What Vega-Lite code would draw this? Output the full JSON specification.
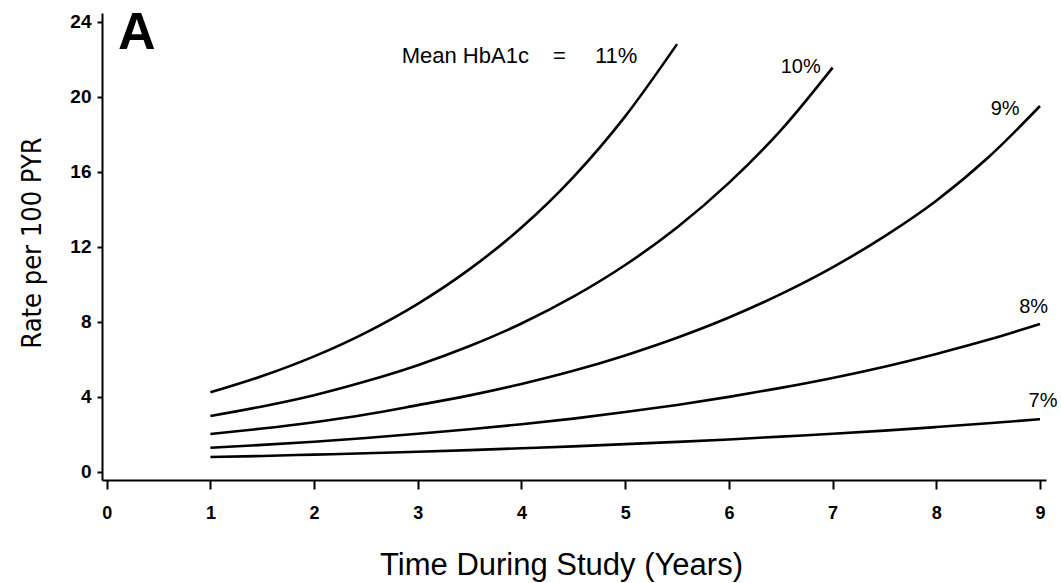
{
  "$schema": "https://vega.github.io/schema/vega-lite/v6.json",
  "autosize": {"type": "none"},
  "padding": {"left": 102, "top": 13, "right": 15, "bottom": 103},
  "width": 944,
  "height": 467,
  "config": {"view": {"stroke": null}, "font": "Liberation Sans"},
  "datasets": {
    "curves": [
      {"s": "11%", "t": 1, "r": 4.23}, {"s": "11%", "t": 1.5, "r": 5.1}, {"s": "11%", "t": 2, "r": 6.15}, {"s": "11%", "t": 2.5, "r": 7.42}, {"s": "11%", "t": 3, "r": 8.95}, {"s": "11%", "t": 3.5, "r": 10.8}, {"s": "11%", "t": 4, "r": 13.02}, {"s": "11%", "t": 4.5, "r": 15.71}, {"s": "11%", "t": 5, "r": 18.95}, {"s": "11%", "t": 5.5, "r": 22.8},
      {"s": "10%", "t": 1, "r": 2.97}, {"s": "10%", "t": 1.5, "r": 3.48}, {"s": "10%", "t": 2, "r": 4.08}, {"s": "10%", "t": 2.5, "r": 4.82}, {"s": "10%", "t": 3, "r": 5.68}, {"s": "10%", "t": 3.5, "r": 6.7}, {"s": "10%", "t": 4, "r": 7.9}, {"s": "10%", "t": 4.5, "r": 9.33}, {"s": "10%", "t": 5, "r": 11.02}, {"s": "10%", "t": 5.5, "r": 13.02}, {"s": "10%", "t": 6, "r": 15.4}, {"s": "10%", "t": 6.5, "r": 18.2}, {"s": "10%", "t": 7, "r": 21.55},
      {"s": "9%", "t": 1, "r": 2.01}, {"s": "9%", "t": 1.5, "r": 2.3}, {"s": "9%", "t": 2, "r": 2.64}, {"s": "9%", "t": 2.5, "r": 3.05}, {"s": "9%", "t": 3, "r": 3.55}, {"s": "9%", "t": 3.5, "r": 4.07}, {"s": "9%", "t": 4, "r": 4.68}, {"s": "9%", "t": 4.5, "r": 5.38}, {"s": "9%", "t": 5, "r": 6.2}, {"s": "9%", "t": 5.5, "r": 7.14}, {"s": "9%", "t": 6, "r": 8.22}, {"s": "9%", "t": 6.5, "r": 9.47}, {"s": "9%", "t": 7, "r": 10.9}, {"s": "9%", "t": 7.5, "r": 12.55}, {"s": "9%", "t": 8, "r": 14.45}, {"s": "9%", "t": 8.5, "r": 16.75}, {"s": "9%", "t": 9, "r": 19.5},
      {"s": "8%", "t": 1, "r": 1.28}, {"s": "8%", "t": 1.5, "r": 1.43}, {"s": "8%", "t": 2, "r": 1.6}, {"s": "8%", "t": 2.5, "r": 1.8}, {"s": "8%", "t": 3, "r": 2.02}, {"s": "8%", "t": 3.5, "r": 2.26}, {"s": "8%", "t": 4, "r": 2.53}, {"s": "8%", "t": 4.5, "r": 2.83}, {"s": "8%", "t": 5, "r": 3.18}, {"s": "8%", "t": 5.5, "r": 3.56}, {"s": "8%", "t": 6, "r": 3.99}, {"s": "8%", "t": 6.5, "r": 4.47}, {"s": "8%", "t": 7, "r": 5.0}, {"s": "8%", "t": 7.5, "r": 5.6}, {"s": "8%", "t": 8, "r": 6.28}, {"s": "8%", "t": 8.5, "r": 7.03}, {"s": "8%", "t": 9, "r": 7.88},
      {"s": "7%", "t": 1, "r": 0.78}, {"s": "7%", "t": 1.5, "r": 0.84}, {"s": "7%", "t": 2, "r": 0.91}, {"s": "7%", "t": 2.5, "r": 0.98}, {"s": "7%", "t": 3, "r": 1.06}, {"s": "7%", "t": 3.5, "r": 1.15}, {"s": "7%", "t": 4, "r": 1.25}, {"s": "7%", "t": 4.5, "r": 1.35}, {"s": "7%", "t": 5, "r": 1.47}, {"s": "7%", "t": 5.5, "r": 1.59}, {"s": "7%", "t": 6, "r": 1.72}, {"s": "7%", "t": 6.5, "r": 1.87}, {"s": "7%", "t": 7, "r": 2.02}, {"s": "7%", "t": 7.5, "r": 2.19}, {"s": "7%", "t": 8, "r": 2.38}, {"s": "7%", "t": 8.5, "r": 2.58}, {"s": "7%", "t": 9, "r": 2.8}
    ],
    "labels": [
      {"label": "Mean HbA1c", "t": 2.845, "r": 21.81, "kind": "main"},
      {"label": "=", "t": 4.304, "r": 21.81, "kind": "main"},
      {"label": "11%", "t": 4.709, "r": 21.81, "kind": "main"},
      {"label": "10%", "t": 6.5, "r": 21.25, "kind": "pct"},
      {"label": "9%", "t": 8.525, "r": 19.02, "kind": "pct"},
      {"label": "8%", "t": 8.8, "r": 8.45, "kind": "pct"},
      {"label": "7%", "t": 8.89, "r": 3.47, "kind": "pct"}
    ],
    "panel": [
      {"label": "A", "t": 0.109, "r": 22.54}
    ]
  },
  "layer": [
    {
      "data": {"name": "curves"},
      "mark": {"type": "line", "color": "black", "strokeWidth": 2.6, "interpolate": "monotone"},
      "encoding": {
        "x": {
          "field": "t", "type": "quantitative",
          "scale": {"domain": [-0.0453, 9.058], "nice": false, "zero": false},
          "axis": {
            "values": [0, 1, 2, 3, 4, 5, 6, 7, 8, 9], "format": "d",
            "title": "Time During Study (Years)",
            "titleFont": "Liberation Sans", "titleFontSize": 31, "titleFontWeight": "normal", "titleColor": "black",
            "titleX": 459, "titleY": 94, "titleBaseline": "alphabetic", "titleAlign": "center",
            "grid": false, "domainColor": "black", "domainWidth": 2, "tickColor": "black", "tickWidth": 2, "tickSize": 9,
            "labelFont": "Liberation Sans", "labelFontSize": 18, "labelFontWeight": "bold", "labelColor": "black", "labelPadding": 15
          }
        },
        "y": {
          "field": "r", "type": "quantitative",
          "scale": {"domain": [-0.443, 24.46], "nice": false, "zero": false},
          "axis": {
            "values": [0, 4, 8, 12, 16, 20, 24], "format": "d",
            "title": "Rate per 100 PYR",
            "titleFont": "DejaVu Sans Condensed", "titleFontSize": 27, "titleFontWeight": "normal", "titleColor": "black",
            "titleX": -62, "titleY": 229.5, "titleBaseline": "alphabetic", "titleAlign": "center", "titleAngle": -90,
            "grid": false, "domainColor": "black", "domainWidth": 2, "tickColor": "black", "tickWidth": 2, "tickSize": 5,
            "labelFont": "Liberation Sans", "labelFontSize": 19, "labelFontWeight": "bold", "labelColor": "black", "labelPadding": 6
          }
        },
        "detail": {"field": "s"}
      }
    },
    {
      "data": {"name": "labels"},
      "transform": [{"filter": "datum.kind == 'main'"}],
      "mark": {"type": "text", "align": "left", "baseline": "alphabetic", "fontSize": 22, "font": "Liberation Sans", "color": "black"},
      "encoding": {
        "x": {"field": "t", "type": "quantitative"},
        "y": {"field": "r", "type": "quantitative"},
        "text": {"field": "label"}
      }
    },
    {
      "data": {"name": "labels"},
      "transform": [{"filter": "datum.kind == 'pct'"}],
      "mark": {"type": "text", "align": "left", "baseline": "alphabetic", "fontSize": 20, "font": "Liberation Sans", "color": "black"},
      "encoding": {
        "x": {"field": "t", "type": "quantitative"},
        "y": {"field": "r", "type": "quantitative"},
        "text": {"field": "label"}
      }
    },
    {
      "data": {"name": "panel"},
      "mark": {"type": "text", "align": "left", "baseline": "alphabetic", "fontSize": 52, "fontWeight": "bold", "font": "Liberation Sans", "color": "black"},
      "encoding": {
        "x": {"field": "t", "type": "quantitative"},
        "y": {"field": "r", "type": "quantitative"},
        "text": {"field": "label"}
      }
    }
  ]
}
